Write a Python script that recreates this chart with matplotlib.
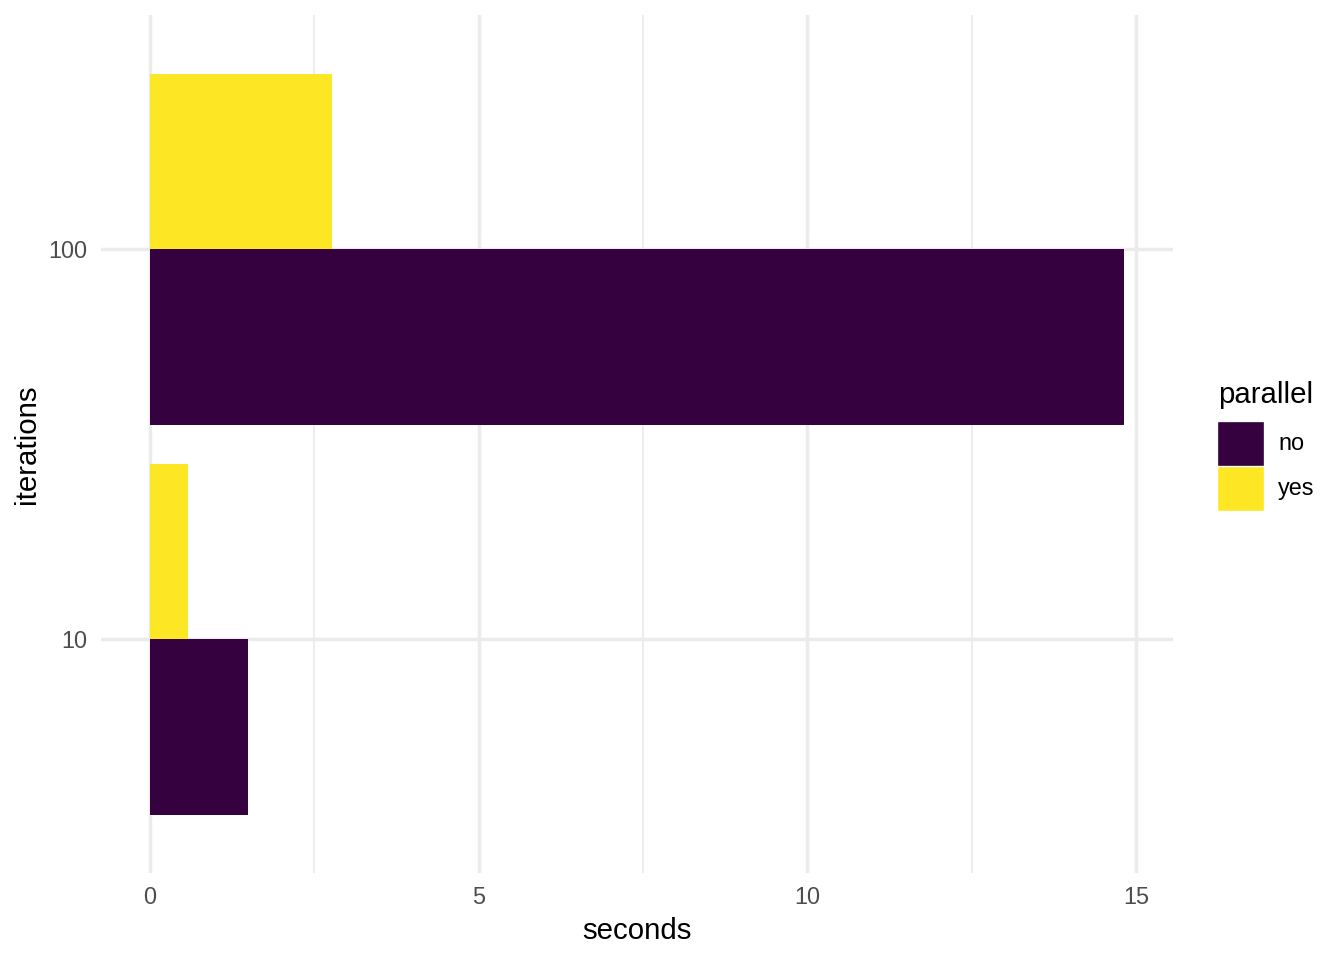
import matplotlib
matplotlib.use('Agg')
import matplotlib.pyplot as plt
from matplotlib.patches import Rectangle

plt.rcParams['font.family'] = ['Liberation Sans', 'DejaVu Sans']

# data
iterations = ['10', '100']
parallel = ['no', 'yes']
seconds_no = [1.49, 14.82]
seconds_yes = [0.58, 2.77]
colors = {'no': '#36013F', 'yes': '#FDE725'}

fig = plt.figure(figsize=(7, 5), dpi=192)
ax = fig.add_axes([101 / 1344, 0.0906, (1173 - 101) / 1344, 0.984 - 0.0906])

pos = [i + 1 for i in range(len(iterations))]
w = 0.45
ax.barh([p - w / 2 for p in pos], seconds_no, height=w, color=colors['no'], zorder=3)
ax.barh([p + w / 2 for p in pos], seconds_yes, height=w, color=colors['yes'], zorder=3)

xmax = max(seconds_no + seconds_yes)
pad = 0.05 * xmax
ax.set_xlim(-pad, xmax + pad)
ax.set_ylim(0.4, 2.6)

ax.set_xticks([0, 5, 10, 15])
ax.set_xticks([2.5, 7.5, 12.5], minor=True)
ax.set_yticks(pos)
ax.set_yticklabels(iterations)

ax.grid(which='major', color='#EBEBEB', linewidth=1.3, zorder=0)
ax.grid(which='minor', axis='x', color='#EBEBEB', linewidth=0.65, zorder=0)
for s in ax.spines.values():
    s.set_visible(False)
ax.tick_params(which='both', length=0, labelsize=8.8, labelcolor='#4D4D4D')
ax.tick_params(axis='x', pad=5)
ax.tick_params(axis='y', pad=5)

ax.set_xlabel('seconds', fontsize=11, labelpad=3)
ax.set_ylabel('iterations', fontsize=11, labelpad=3)

# legend
W, H = 1344, 960
fig.text(1218 / W, 1 - 395 / H, 'parallel', fontsize=11, ha='left', va='center')
key_tops = [423, 468]
for lab, top in zip(parallel, key_tops):
    fig.add_artist(Rectangle((1219 / W, 1 - (top + 41) / H), 43 / W, 41 / H,
                             transform=fig.transFigure, color=colors[lab]))
    fig.text(1278 / W, 1 - (top + 21) / H, lab, fontsize=8.8, ha='left', va='center')

fig.savefig('out.png', dpi=192)
